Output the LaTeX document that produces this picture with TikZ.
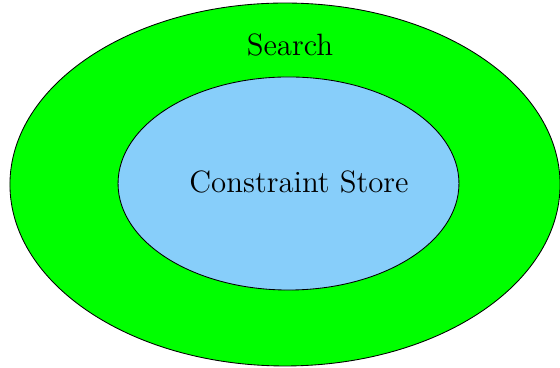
\documentclass[tikz,border=0pt]{standalone}
\usepackage{xcolor}
\usepackage{tikz}
\usetikzlibrary{shapes.geometric}
\definecolor{searchgreen}{RGB}{0,255,0}
\definecolor{storeblue}{HTML}{87CEFA}

\begin{document}
\begin{tikzpicture}[x=0.467pt, y=0.467pt,
    layer/.style={ellipse, draw=black, fill=#1, inner sep=0pt, outer sep=0pt},
    lbl/.style={font=\Large, text=black},
]
    \useasboundingbox (0,0) rectangle (560,368);
    \node[layer=searchgreen, minimum width=256.9pt, minimum height=169.5pt] (search) at (285,183.5) {};
    \node[layer=storeblue, minimum width=159.2pt, minimum height=99.5pt] (store) at (288.5,184.5) {};
    \node[lbl] (searchlbl) at (290,323) {Search};
    \node[lbl] (storelbl) at (299,186) {Constraint Store};
\end{tikzpicture}
\end{document}
